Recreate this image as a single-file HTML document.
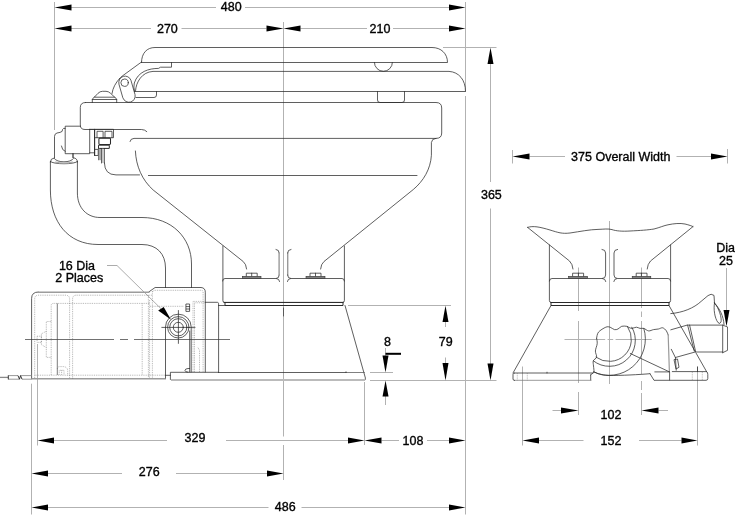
<!DOCTYPE html>
<html><head><meta charset="utf-8"><title>Toilet dimensions</title>
<style>
html,body{margin:0;padding:0;background:#fff}
svg{display:block}
text{font-family:"Liberation Sans",Arial,Helvetica,sans-serif;font-size:12.5px;fill:#000;text-anchor:middle;stroke:#000;stroke-width:.35px}
.dim{stroke:#b2b2b2;stroke-width:1;fill:none}
.obj{stroke:#2a2a2a;stroke-width:.75;fill:none;stroke-linecap:round;stroke-linejoin:round}
.thk{stroke:#222;stroke-width:1.3;fill:none}
.dot{stroke:#555;stroke-width:.45;fill:none;stroke-dasharray:.9 .9}
.lt{stroke:#4a4a4a;stroke-width:.65;fill:none;stroke-linecap:round;stroke-linejoin:round}
.cl{stroke:#333;stroke-width:.7;fill:none}
.ar{fill:#000;stroke:none}
</style></head><body>
<svg width="735" height="516" viewBox="0 0 735 516">
<rect width="735" height="516" fill="#fff"/>

<!-- ===== dimension & extension lines ===== -->
<g class="dim" id="dims">
<path d="M54.5,2V130"/>
<path d="M283.5,22V436.5M283.5,445V480"/>
<path d="M465.5,2V92M465.5,96V514.5"/>
<path d="M71,7.5H216M245,7.5H449.5"/>
<path d="M71,28.5H151M181.5,28.5H266.5M300.5,28.5H367M393,28.5H449.5"/>
<path d="M443,47.5H496.5"/>
<path d="M490.5,63.5V182M490.5,208.5V364"/>
<path d="M348,305.5H451"/>
<path d="M370,380.5H496.5"/>
<path d="M370,372.5H393"/>
<path d="M445.5,322V327M445.5,357.5V363"/>
<path d="M385.5,348V356M385.5,396V405"/>
<path d="M364.5,382V445"/>
<path d="M31.5,383.7V514.5"/>
<path d="M37.5,344V445.5"/>
<path d="M54,440.5H167M226,440.5H348M381.5,440.5H399M427,440.5H449"/>
<path d="M48,473.5H122M176,473.5H267"/>
<path d="M48,507.5H268.5M301.5,507.5H449"/>
<!-- right view -->
<path d="M512.5,150V163.5M727.5,149V163.5M529.5,156.5H565M676.5,156.5H711"/>
<path d="M522.5,366.5V445.5M697.5,367V445.5"/>
<path d="M539,440.5H583.5M639,440.5H681.5"/>
<path d="M552.5,410.5H561M658.5,410.5H668"/>
<path d="M578.5,267.5V311M578.5,321V383M578.5,392V415"/>
<path d="M641.5,267.5V308M641.5,311.5V317M641.5,321V374M641.5,381V390M641.5,393V415"/>
<path d="M609.5,221V384"/>
<path d="M564.5,339.5H605.2M607.6,339.5H613.2M615.6,339.5H651.7"/>
<path d="M726.5,268V311"/>
<path d="M107,265.5H117L161,308.7" stroke="#888" stroke-width=".7"/>
</g>

<!-- ===== arrow heads ===== -->
<g class="ar" id="arrows">
<path d="M54.5,7.5L71.5,4.6V10.4Z"/><path d="M465.5,7.5L449,4.6V10.4Z"/>
<path d="M54.5,28.5L71.5,25.6V31.4Z"/><path d="M283.5,28.5L266.5,25.6V31.4Z"/>
<path d="M283.5,28.5L300.5,25.6V31.4Z"/><path d="M465.5,28.5L449,25.6V31.4Z"/>
<path d="M490.5,47.5L487.5,64H493.5Z"/><path d="M490.5,380.5L487.5,363.5H493.5Z"/>
<path d="M445.5,305.5L442.5,322H448.5Z"/><path d="M445.5,380.5L442.5,363H448.5Z"/>
<path d="M385.5,372.5L382.5,355.5H388.5Z"/><path d="M385.5,380.5L382.5,396.5H388.5Z"/>
<rect x="385.5" y="352.8" width="15.5" height="2"/>
<path d="M37.5,440.5L54,437.6V443.4Z"/><path d="M364.5,440.5L348,437.6V443.4Z"/>
<path d="M364.5,440.5L381.5,437.6V443.4Z"/><path d="M465.5,440.5L449,437.6V443.4Z"/>
<path d="M31.5,473.5L48,470.6V476.4Z"/><path d="M283.5,473.5L267,470.6V476.4Z"/>
<path d="M31.5,507.5L48,504.6V510.4Z"/><path d="M465.5,507.5L449,504.6V510.4Z"/>
<path d="M512.5,156.5L529.5,153.6V159.4Z"/><path d="M727.5,156.5L711,153.6V159.4Z"/>
<path d="M578.5,410.5L561,407.6V413.4Z"/><path d="M641.5,410.5L658.5,407.6V413.4Z"/>
<path d="M522.5,440.5L539,437.6V443.4Z"/><path d="M697.5,440.5L681.5,437.6V443.4Z"/>
<path d="M726.5,326.5L723.5,310H729.5Z"/>
<path d="M171,319.7L158.2,310.5L163.7,306.9Z"/>
</g>

<!-- ===== labels ===== -->
<g id="labels" style="opacity:.999;will-change:opacity">
<text x="231.2" y="10.8">480</text>
<text x="167.4" y="33.2">270</text>
<text x="380" y="33.2">210</text>
<text x="491.4" y="198.8">365</text>
<text x="445.8" y="346.2">79</text>
<text x="387.5" y="346.2">8</text>
<text x="195" y="442.2">329</text>
<text x="149.2" y="476.2">276</text>
<text x="285.2" y="511.2">486</text>
<text x="413" y="445.2">108</text>
<text x="620.8" y="161.2">375 Overall Width</text>
<text x="611" y="419.2">102</text>
<text x="611" y="445.2">152</text>
<text x="725.6" y="252.2">Dia</text>
<text x="726" y="265.2">25</text>
<text x="77" y="269.6">16 Dia</text>
<text x="79.2" y="281.8">2 Places</text>
</g>

<!-- ===== side view: lid / seat / bowl ===== -->
<g class="obj" id="side-top">
<!-- lid -->
<path d="M141.5,62.5C141.5,53 147,47.5 155,47.5H432C441,47.5 447.5,53.5 447.5,62.5H141.5"/>
<path d="M374.4,62.5A9,8.8 0 0 0 392.4,62.5"/>
<path d="M171.5,62.5V67.2H160.5L158.5,68.4C149,68.4 138,71.5 134.3,83Q133.3,87 134.5,91.3"/>
<!-- seat -->
<path d="M135.5,91C136,82 142,72 153,71.4H449C459,72 465.5,80 465.5,91.5H134.5"/>
<path d="M136,97.5H154Q156.5,97.5 156.5,95V91.5"/>
<path d="M377.5,91.5V100Q377.5,102.5 380,102.5H402Q404.5,102.5 404.5,100V91.5"/>
<!-- hinge arm + link -->
<path d="M141.5,62L123,75.5Q120.5,77.3 119.5,78.6"/>
<path d="M118.85,83.7A6.3,6.3 0 0 1 130.95,80.3L135.05,94.7A6.3,6.3 0 0 1 122.95,98.1Z"/>
<circle cx="124.6" cy="82.7" r="3.7"/>
<path d="M119.5,78.6C115.5,83 112.8,88 112,93.5"/>
<!-- dome button -->
<path d="M92.3,102.5V99.5Q92.5,98.3 94.5,97L98,93.3Q100,91.3 102.5,91.3H106Q108.5,91.3 110.5,93.3L114.5,97Q116.5,98.3 116.7,99.5V102.5M92.3,99.5H116.7M94.5,97.2H114.5"/>
<!-- bowl rim -->
<path d="M85.4,102.5H436Q441.7,102.5 441.7,108V133Q441.7,138.4 436,138.4Q431.8,138.6 431.4,142.5V155.3C430.6,169 423.5,181 413.3,189.5L324,261.5Q321,264 320.6,269"/>
<path d="M85.4,102.5Q80.3,102.5 80.3,107.5V125Q80.3,129.5 85,129.5H141.5Q145,129.6 146.8,131.6"/>
<path d="M130,141.5Q130.5,138.5 134,138.4H436"/>
<path d="M135.4,151C136,166 142,180 153.2,190L243.2,261.5Q246.2,264 246.6,269"/>
<path d="M148.4,175.5H417"/>
<path d="M104.4,163Q104.6,174.8 116,174.9H139.5"/>
</g>

<!-- ===== side view: elbow fitting, hose ===== -->
<g class="obj" id="fitting">
<path d="M80.5,126.2H65.2V128.4H63.6Q62.3,129 62.1,131.4Q60.5,132.6 57,133Q54.5,133.6 54.5,136.5V158"/>
<path d="M65.2,128.4V153.7H89.7V129.3"/>
<path d="M61.4,146Q62,150.5 65.2,151.4"/>
<path d="M89.7,129.3H94.6V152.8H89.7M94.6,149.4H98.2V155.5H94.6V152.8"/>
<path d="M94.6,129.3V155.5" stroke-width="1"/>
<path d="M95,129.3H113.5V137.7H95"/>
<path d="M97,137.7V131.3H103.1V137.7M105,137.7V131.3H112V137.7"/>
<path d="M99.8,138.1H109.6Q110.5,138.2 110.5,139V143.6Q110.5,144.5 109.6,144.5H99.8Q98.9,144.5 98.9,143.6V139Q98.9,138.2 99.8,138.1Z" stroke-width="1.05"/>
<path d="M98.9,145.2H109.3V148.4H98.9Z" stroke-width="1"/>
<path d="M98.5,148.4V159.8M100,148.4V159.8M101.5,148.4V163M104.4,148.4V163"/>
<path d="M99.25,149V159.5M102.9,149V162.5" stroke="#aaa" stroke-width="1.2"/>
<path d="M73,153.7V157.4" stroke-width="1.2"/>
<!-- hose top ellipse -->
<path d="M50.4,162Q50.4,158.3 54,158M77.4,162Q77.4,158.3 73.7,157.8"/>
<path d="M50.4,161.5C52.5,164.6 75.5,164.6 77.4,161.5M54.3,158.6C57,163 71,163 73.4,158.6"/>
<path d="M55.5,162.2Q64,164.2 72.5,162.2" stroke="#aaa" stroke-width="1.2"/>
<!-- hose -->
<path d="M50.4,161.5V190C50.4,222 68,244.5 98,244.5H142C157,244.5 165.5,254 165.5,268V287.5"/>
<path d="M77.4,161.5V193C77.4,208 87,217.5 100,217.5H142C172,217.5 191.5,238 191.5,264V287.5"/>
</g>

<!-- ===== side view: pedestal ===== -->
<g class="obj" id="pedestal">
<path d="M222.9,246V300.5Q222.9,302.5 224.6,302.5H342.4Q344.4,302.5 344.4,300.5V246"/>
<path d="M222.6,281Q222.6,278.5 225,278.5H276Q279.2,278.5 279.2,275M279.2,253Q279.2,249.6 276,249.4M276.5,278.5Q279.4,278.7 279.6,281.5"/><path d="M279.1,253V275M287.7,253V275" stroke="#9a9a9a" stroke-width="1.4"/>
<path d="M344.4,281Q344.4,278.5 342,278.5H291Q287.6,278.5 287.6,275M287.6,253Q287.6,249.6 291,249.4M290.5,278.5Q287.6,278.7 287.4,281.5"/>
<path d="M225,302.5V305.5H343V302.5M224,302.4H343" stroke-width="1"/>

<path d="M345,305.5L365.4,378Q365.8,380.5 364,380.5"/>
<path d="M218.4,372.5H346.5M346,372.5V371.8"/><path d="M346.5,372.5H364.4" stroke="#555"/>
<path d="M283.5,308V316" class="cl"/>
<!-- bolts -->
<path d="M246.3,276.3V273.2H257.2V276.3M251.7,273.2V276.3M310,276.3V273.2H321V276.3M315.5,273.2V276.3"/>
</g>
<g fill="#808080" stroke="#333" stroke-width=".6"><rect x="242.3" y="276.3" width="18.7" height="2"/><rect x="306" y="276.3" width="19" height="2"/></g>
<path d="M171,380H365" stroke="#bbb" stroke-width="1.8" fill="none"/>

<!-- ===== side view: pump + motor ===== -->
<g class="obj" id="pump">
<!-- motor housing -->
<path d="M31.6,379V298.5Q31.6,292 38.2,292"/>
<path d="M149,291.8L155.1,287.5H201Q205.3,287.8 205.3,292.2V372"/>
<path d="M205.3,302.3H217.4Q218.6,302.5 218.6,303.7V372M218.6,305.5H225"/>
<path d="M170.4,379.5V372.3H218.4"/>
<path d="M165.5,375.3H170.4"/>
<!-- port arch + rings -->
<path d="M165.5,378.8V327A12.85,12.85 0 0 1 191.2,327V372M189.7,331V372"/>
<circle cx="178.3" cy="327.3" r="10.7"/><circle cx="178.3" cy="327.3" r="8.6"/><circle cx="178.3" cy="327.3" r="5"/>
<path d="M161.8,327.4H195M178.4,310.5V343.4"/>
<path d="M186.3,304H189.6V311.4H186.3ZM186.3,306.6H189.6M186.3,309H189.6"/>
<path d="M189.6,368.5H188Q185,368.7 185,370.5Q185,372 188,372.2"/>
</g>
<!-- straddled (light) housing lines -->
<g fill="none" stroke="#9c9c9c" stroke-width="1.5">
<path d="M38,292.2H149.5"/>
<path d="M31.5,378.8H165.5"/>
</g>
<g class="cl"><path d="M25,339.5H114M120,339.5H128M134,339.5H230"/></g>
<g class="dot" id="hidden">
<path d="M34.7,378V299Q34.7,295.2 38.5,295.2H66Q69.6,295.5 69.6,299V378.5"/>
<path d="M72.6,378.5V299Q72.6,295.2 76.5,295.2H152"/>
<path d="M51.2,375V305.5Q51.2,303.4 53.5,303.4H150M34.7,375.2H165"/>
<path d="M57.3,303.4V375" stroke="#444" stroke-width=".7" stroke-dasharray="none"/>
<path d="M51.2,321.5H46.3V357.4H51.2"/>
<path d="M46.3,331.3L41.4,333.8V344.6L46.3,347.6"/>
<path d="M37.1,336.2H41.4V342.4H37.1Z"/>
<path d="M57.3,369Q57.5,366.6 60,366.6H63.5Q67.7,367 67.7,371V375.2M59.2,375V370.3H64V375M61.6,370.3V375"/>
<path d="M142.2,303.4V375M148.4,295.2V378M149.6,300V378M152.4,291V378"/>
<path d="M152.4,292L153.9,290.3H201.6Q203.1,290.5 203.1,292.5V372"/>
<path d="M150,306.3H184"/>
<path d="M193,372V301.4H205M194.5,372V302.8H205M199.5,372V350L197.5,347"/>
</g>
<!-- wires -->
<g fill="none"><path d="M0,377.4H8.2" stroke="#8a8a8a" stroke-width="1.3"/><path d="M8.2,375.6H18M8.2,379.2H19.5M22,379.2H31.4M20.5,375.6H31.4" stroke="#999" stroke-width="1"/><path d="M8.3,375.4V379.4M18,375.6L19.5,379.2L20.5,375.6L22,379.2" stroke="#222" stroke-width=".9"/></g>

<!-- ===== end view ===== -->
<g class="obj" id="endview">
<!-- broken bowl -->
<path d="M527.6,227.4C533,225.5 540,227 550,230C558,232.5 562,234 570,233C580,231.5 590,229.5 598,229.4C604,229.2 608,228.5 612,229.6C616,231 622,231.5 630,231C640,230.5 648,230 654,229C660,227.5 664,225.5 668,224.8C674,223.5 680,223 685,224C689,225 692,226 693,226.6"/>
<path d="M527.6,227.4L569.5,261Q572.6,264 573,269"/>
<path d="M693,226.6L650.5,261Q647.6,264 647.2,269"/>
<path d="M549.4,245V300.5Q549.4,302.5 551.4,302.5H668.6Q670.6,302.5 670.6,300.5V245"/>
<path d="M549.4,281Q549.4,278.5 552,278.5H602Q605.6,278.5 605.6,275V253Q605.6,249.6 602,249.4M602.5,278.5Q605.6,278.7 605.8,281.5"/>
<path d="M670.6,281Q670.6,278.5 668,278.5H617.6Q614,278.5 614,275V253Q614,249.6 617.6,249.4M617,278.5Q614,278.7 613.8,281.5"/>
<path d="M551,302.5V305.5H669V302.5M551,302.5H669" stroke-width="1"/>
<!-- bolts -->
<path d="M572.6,276.3V273.2H583.6V276.3M578.4,273.2V276.3M636.2,276.3V273.2H647V276.3M641.4,273.2V276.3"/>
<!-- skirt + base -->
<path d="M551,305.5L513,373"/>
<path d="M669,305.5L706.8,372"/><path d="M697.5,366.8V371.4"/>
<path d="M514.5,373H593M590.7,380V375M547,372.2V373"/><path d="M514.5,380.3H591" stroke="#777"/>
<path d="M514.5,373Q513,373 513,374.5V379Q513,380.5 514.5,380.5"/>
<path d="M672.3,371.6H706.6Q707.8,372.4 707.8,374.5V378.5Q707.8,380.3 706,380.3H654L650,373.7"/>
<!-- volute arcs -->
<path d="M627.4,326.4A22.3,22.3 0 0 1 596,357.2"/>
<path d="M631.8,327.2A26,26 0 0 1 593.3,360.8"/>
<path d="M643.8,328.4A36.3,36.3 0 0 1 593.6,371.9"/>
<!-- break outline -->
<path d="M596.6,338.2C596.9,337.2 597.0,333.9 598.5,332.1C600.0,330.3 603.9,328.0 605.8,327.2C607.7,326.4 608.7,326.8 610.1,327.2C611.5,327.6 613.1,329.3 614.4,329.6C615.7,329.9 616.8,329.6 618.0,329.0C619.2,328.4 620.3,326.8 621.7,326.3C623.1,325.9 625.4,326.1 626.6,326.3C627.8,326.5 628.1,327.1 629.0,327.5C629.9,327.9 630.9,328.4 632.1,328.4C633.3,328.3 635.1,327.2 636.4,327.2C637.7,327.2 638.8,328.2 640.0,328.4C641.2,328.6 642.4,328.0 643.8,328.4C645.2,328.8 647.0,330.7 648.6,330.9C650.2,331.1 651.9,329.9 653.5,329.6C655.1,329.3 656.9,329.3 658.4,329.0C659.9,328.7 661.4,327.5 662.7,327.8C664.0,328.1 665.5,329.7 666.4,330.9C667.3,332.1 667.9,334.4 668.2,335.1"/>
<path d="M596.6,338.2C596.7,339.1 597.4,341.6 597.2,343.7C597.0,345.8 595.5,348.8 595.4,351.0C595.3,353.2 597.0,355.6 596.6,357.2C596.2,358.8 593.8,359.3 593.3,360.8C592.8,362.3 593.4,364.1 593.5,366.0C593.6,367.9 594.3,370.4 593.8,371.9C593.3,373.4 591.0,374.4 590.5,374.9"/>
<path d="M669.6,372.5V380"/><path d="M668.2,335L669.4,372" stroke="#999" stroke-width="1.2"/>
<path d="M630.3,353.5L669.5,371.9M654.8,371.9H669.5"/><path d="M594.2,372C599,374.5 604,375.5 609.5,375.5C620,375.6 640,374.6 649.9,373.7"/>
<!-- outlet -->
<path d="M670.8,313.6C683,312.6 694,308 701.1,301.4L708,295.6Q711.2,293 714,295.4L714.5,303"/>
<path d="M714.5,303C713.4,309 714.6,318 718,322.6Q720,324.6 721,322C722,318 719,308 714.5,303Z"/>
<path d="M714.8,303.4C719.5,308.5 723.6,316 724,324.6"/>
<path d="M670.8,329.8L687.2,325.1H722.7L727.6,327V350.3L722.7,352.7M695.5,351.9L675.4,357.5L671.3,349.3M675.4,357.5L676.2,370.2"/><path d="M695.5,352H722.7" stroke="#999" stroke-width="1.3"/>
<path d="M722.7,325.1V352.7"/>
<path d="M687.6,325.1L694.2,351M689.6,325.1L695.6,351.6"/>
<path d="M674.4,359.6L677.5,359L679,367.3L676.4,368.8Z"/>
</g>
<g fill="#808080" stroke="#333" stroke-width=".6"><rect x="568.6" y="276.3" width="19" height="2"/><rect x="632.2" y="276.3" width="18.6" height="2"/></g>
<g class="dot">
<path d="M517.3,373V380.5M527.3,373V380.5"/>
<path d="M692.3,372V380M702.3,372V380"/>
</g>
</svg>
</body></html>
